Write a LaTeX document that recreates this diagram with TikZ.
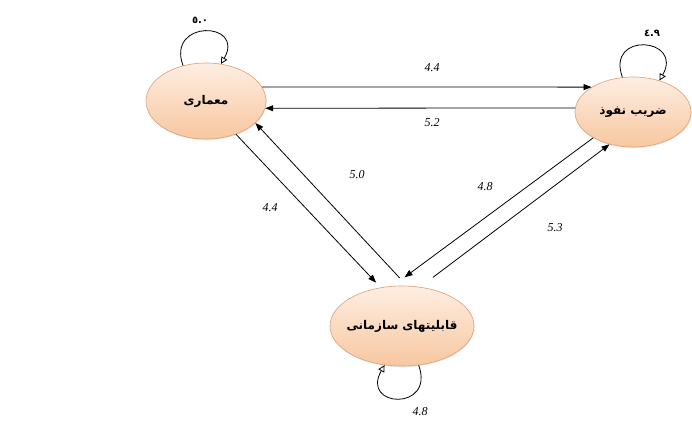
\documentclass[tikz,border=0pt]{standalone}
\usepackage{fontspec}
\setmainfont{Liberation Serif}
\newfontfamily\arabicfont[Script=Arabic]{DejaVu Sans}
\TeXXeTstate=1
\usepackage{xcolor}
\usepackage{tikz}
\usetikzlibrary{arrows.meta}
\usetikzlibrary{shapes}
\usetikzlibrary{shadows}

\definecolor{peachtop}{HTML}{FDEEE2}
\definecolor{peachbot}{HTML}{F8C7A0}
\definecolor{peachline}{HTML}{E0A47C}

\begin{document}
\begin{tikzpicture}[x=0.75pt,y=0.75pt]
    \useasboundingbox (0,0) rectangle (692,421);
    \begin{scope}[every node/.style={ellipse,draw=peachline,line width=0.5pt,top color=peachtop,bottom color=peachbot,inner sep=0pt,drop shadow={opacity=0.2,shadow xshift=0.4pt,shadow yshift=-0.8pt},font=\arabicfont\bfseries\fontsize{9}{11}\selectfont}]
      \node (arch)[minimum width=90pt,minimum height=57pt] at (206,320) {\beginR معماری\endR};
      \node (pen)[minimum width=87pt,minimum height=52.5pt] at (633,309) {\beginR ضریب نفوذ\endR};
      \node (cap)[minimum width=108pt,minimum height=60pt,inner xsep=-4pt] at (402,95) {\beginR قابلیتهای سازمانی\endR};
    \end{scope}
    \begin{scope}[every node/.style={font=\fontsize{9}{10}\selectfont\itshape}]
      \node (wAP) at (432,353) {4.4};
      \node (wPA) at (432,298) {5.2};
      \node (wAC) at (270,213) {4.4};
      \node (wCA) at (357,246) {5.0};
      \node (wPC) at (485,234) {4.8};
      \node (wCP) at (555,193) {5.3};
      \node (wCC) at (420,9) {4.8};
    \end{scope}
    \node (wAA) [font=\arabicfont\bfseries\fontsize{7.5}{8}\selectfont] at (200,401) {٥.٠};
    \node (wPP) [font=\arabicfont\bfseries\fontsize{7.5}{8}\selectfont] at (652,388) {٤.٩};
    \begin{scope}[every edge/.style={draw=black,line width=0.6pt,-{Triangle[length=6pt,width=4.5pt]}}]
      \path (arch.14) edge (pen.149);
      \path (pen.176) edge (arch.-7);
      \path (arch.-48) edge[shorten >=5pt] (cap.119);
      \path (cap.83) edge[shorten <=8pt] (arch.-24);
      \path (pen.-147) edge[shorten >=11pt] (cap.103);
      \path (cap.65) edge[shorten <=12pt] (pen.-126);
    \end{scope}
    \begin{scope}[every edge/.style={draw=black,line width=0.6pt,-{Triangle[open,length=5pt,width=5pt]},distance=37pt}]
      \path (arch.123) edge[out=110,in=60] (arch.68);
      \path (pen.107) edge[out=110,in=60] (pen.50);
      \path (cap.-67) edge[out=-70,in=-120] (cap.-114);
    \end{scope}
\end{tikzpicture}
\end{document}
